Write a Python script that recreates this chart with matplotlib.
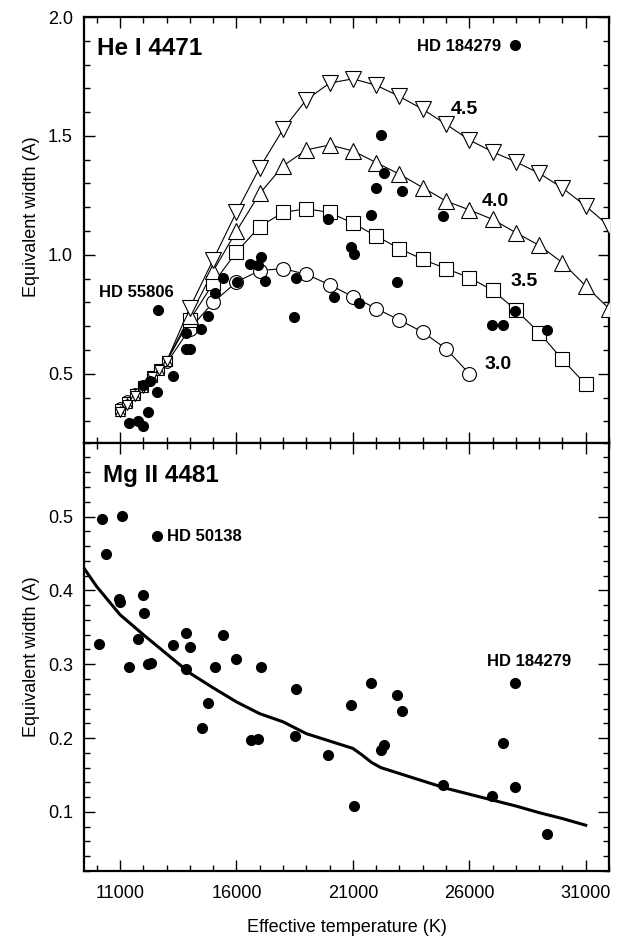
import matplotlib
matplotlib.use("Agg")
import matplotlib.pyplot as plt
from matplotlib.ticker import MultipleLocator

plt.rcParams['font.family'] = ['Liberation Sans', 'DejaVu Sans']

# He I 4471 model curves (log g = 3.0 ... 4.5)
t_low = [11000, 11300, 11650, 12000, 12350, 12650, 13000]
t_high = [14000, 15000, 16000, 17000, 18000, 19000, 20000, 21000, 22000, 23000,
          24000, 25000, 26000, 27000, 28000, 29000, 30000, 31000, 32000]

he_30 = [0.36, 0.39, 0.42, 0.45, 0.49, 0.52, 0.545,
         0.69, 0.80, 0.886, 0.934, 0.942, 0.918, 0.874, 0.824, 0.774, 0.726,
         0.675, 0.605, 0.50]
he_35 = [0.352, 0.383, 0.415, 0.448, 0.49, 0.518, 0.553,
         0.727, 0.88, 1.012, 1.119, 1.178, 1.194, 1.178, 1.133, 1.079, 1.026,
         0.981, 0.942, 0.904, 0.851, 0.768, 0.673, 0.56, 0.455]
he_40 = [0.345, 0.378, 0.41, 0.445, 0.488, 0.517, 0.553,
         0.742, 0.932, 1.10, 1.258, 1.374, 1.441, 1.462, 1.437, 1.388, 1.339,
         1.283, 1.226, 1.189, 1.149, 1.093, 1.040, 0.967, 0.869, 0.774]
he_45 = [0.34, 0.37, 0.405, 0.44, 0.485, 0.515, 0.553,
         0.778, 0.98, 1.18, 1.367, 1.528, 1.652, 1.722, 1.74, 1.713, 1.666,
         1.612, 1.549, 1.483, 1.433, 1.391, 1.343, 1.281, 1.205, 1.121]

# observed He I 4471
he_obs_t = [19928, 27972, 22186, 22328, 21972, 23116, 21788, 24886, 20931, 21029,
            22902, 20172, 21256, 27972, 26957, 27458, 29357, 17073, 16572, 16928,
            17215, 16002, 15427, 18543, 15072, 12642, 18470, 14785, 14472, 13829,
            13829, 14000, 13284, 11999, 12286, 12599, 12187, 11399, 11784, 11999]
he_obs_w = [1.152, 1.882, 1.503, 1.343, 1.280, 1.269, 1.166, 1.163, 1.034, 1.002,
            0.886, 0.822, 0.796, 0.764, 0.703, 0.707, 0.684, 0.992, 0.960, 0.956,
            0.890, 0.886, 0.904, 0.904, 0.838, 0.766, 0.740, 0.742, 0.689, 0.672,
            0.605, 0.602, 0.490, 0.451, 0.469, 0.423, 0.339, 0.294, 0.300, 0.279]

# Mg II 4481 model
mg_t = [9450, 10000, 11000, 12000, 13000, 14000, 15000, 16000, 17000, 18000,
        19000, 20000, 20500, 21000, 21400, 21800, 22200, 22600, 23000, 24000,
        25000, 26000, 27000, 28000, 29000, 30000, 31000]
mg_w = [0.430, 0.405, 0.367, 0.340, 0.314, 0.288, 0.268, 0.249, 0.233, 0.222,
        0.206, 0.196, 0.191, 0.186, 0.177, 0.167, 0.160, 0.156, 0.152, 0.142,
        0.132, 0.124, 0.116, 0.108, 0.099, 0.091, 0.082]

# observed Mg II 4481
mg_obs_t = [10216, 11073, 12573, 10400, 10970, 10985, 11999, 12041, 10100, 11784,
            13829, 15402, 13284, 14000, 11399, 12187, 12316, 13829, 15072, 15972,
            17073, 18543, 14785, 14502, 16602, 16928, 18500, 19928, 20900, 21788,
            27972, 22902, 23116, 22216, 22328, 27458, 24886, 26957, 27972, 21042,
            29357]
mg_obs_w = [0.496, 0.501, 0.474, 0.449, 0.388, 0.384, 0.394, 0.370, 0.328, 0.334,
            0.342, 0.340, 0.326, 0.323, 0.296, 0.300, 0.302, 0.293, 0.296, 0.307,
            0.296, 0.266, 0.248, 0.214, 0.198, 0.199, 0.203, 0.177, 0.245, 0.275,
            0.275, 0.259, 0.237, 0.184, 0.191, 0.194, 0.136, 0.122, 0.134, 0.108,
            0.070]

x_ticks = [11000, 16000, 21000, 26000, 31000]


def style_axis(ax):
    for s in ax.spines.values():
        s.set_linewidth(1.6)
    ax.set_xticks(x_ticks)
    ax.xaxis.set_minor_locator(MultipleLocator(1000))
    ax.tick_params(which='both', direction='in', top=True, right=True, width=1.0,
                   labelsize=13)
    ax.tick_params(which='major', length=8)
    ax.tick_params(which='minor', length=4)
    ax.tick_params(axis='x', pad=10)
    ax.tick_params(axis='y', pad=8)
    ax.set_xlim(9450, 32000)


def model_curve(ax, t, w, marker, big):
    ax.plot(t, w, color='black', lw=0.8, zorder=2)
    n = len(t_low)
    ax.plot(t[:n], w[:n], ls='none', marker=marker, ms=7, mfc='white', mec='black',
            mew=0.8, zorder=3)
    ax.plot(t[n:], w[n:], ls='none', marker=marker, ms=big, mfc='white', mec='black',
            mew=0.8, zorder=3)


fig = plt.figure(figsize=(6.22, 9.38), dpi=100)
ax1 = fig.add_axes([84 / 622, 1 - 442.7 / 938, 525 / 622, 425.7 / 938])
ax2 = fig.add_axes([84 / 622, 1 - 871 / 938, 525 / 622, 428.3 / 938])

# top panel
style_axis(ax1)
ax1.set_ylim(0.21, 2.0)
ax1.yaxis.set_major_locator(MultipleLocator(0.5))
ax1.yaxis.set_minor_locator(MultipleLocator(0.1))
ax1.tick_params(axis='x', labelbottom=False)

model_curve(ax1, t_low + t_high[:13], he_30, 'o', 10)
model_curve(ax1, t_low + t_high[:18], he_35, 's', 10)
model_curve(ax1, t_low + t_high, he_40, '^', 11)
model_curve(ax1, t_low + t_high, he_45, 'v', 11)
ax1.plot(he_obs_t, he_obs_w, ls='none', marker='o', ms=7, color='black', zorder=4)

ax1.text(0.025, 0.925, 'He I 4471', transform=ax1.transAxes, fontsize=17.5,
         fontweight='bold', va='center', ha='left')
ax1.text(27350, 1.878, 'HD 184279', fontsize=12, fontweight='bold', ha='right', va='center')
ax1.text(10113, 0.843, 'HD 55806', fontsize=12, fontweight='bold', ha='left', va='center')
ax1.text(25216, 1.612, '4.5', fontsize=14, fontweight='bold', ha='left', va='center')
ax1.text(26528, 1.226, '4.0', fontsize=14, fontweight='bold', ha='left', va='center')
ax1.text(27757, 0.886, '3.5', fontsize=14, fontweight='bold', ha='left', va='center')
ax1.text(26673, 0.539, '3.0', fontsize=14, fontweight='bold', ha='left', va='center')
ax1.set_ylabel('Equivalent width (A)', fontsize=13)
ax1.yaxis.set_label_coords(-0.083, 0.53)

# bottom panel
style_axis(ax2)
ax2.set_ylim(0.02, 0.6)
ax2.yaxis.set_minor_locator(MultipleLocator(0.02))
ax2.set_yticks([0.1, 0.2, 0.3, 0.4, 0.5])

ax2.plot(mg_t, mg_w, color='black', lw=2.2, zorder=2)
ax2.plot(mg_obs_t, mg_obs_w, ls='none', marker='o', ms=7, color='black', zorder=4)

ax2.text(0.036, 0.923, 'Mg II 4481', transform=ax2.transAxes, fontsize=17.5,
         fontweight='bold', va='center', ha='left')
ax2.text(13029, 0.473, 'HD 50138', fontsize=12, fontweight='bold', ha='left', va='center')
ax2.text(26743, 0.304, 'HD 184279', fontsize=12, fontweight='bold', ha='left', va='center')
ax2.set_ylabel('Equivalent width (A)', fontsize=13)
ax2.yaxis.set_label_coords(-0.083, 0.5)
ax2.set_xlabel('Effective temperature (K)', fontsize=13, labelpad=12)

fig.savefig('out.png', dpi=100)
